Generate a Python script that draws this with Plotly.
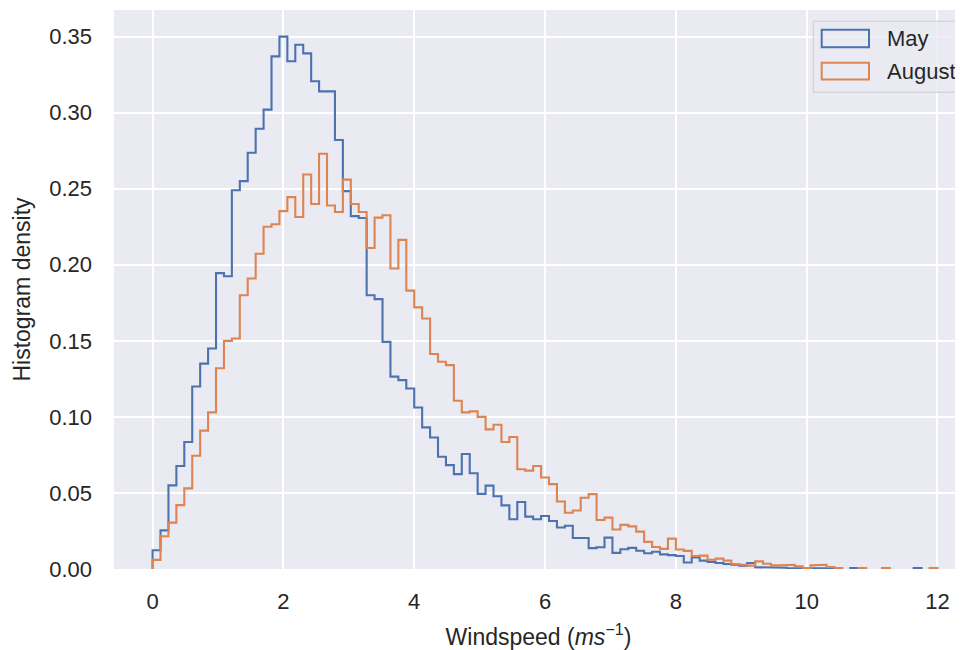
import plotly.graph_objects as go

# ---- data ----
x_max = 12.0
n_bins = 99
bin_edges = [i * x_max / n_bins for i in range(n_bins + 1)]

may_density = [
    0.0123, 0.0254, 0.0550, 0.0677, 0.0835, 0.1200, 0.1350, 0.1450, 0.1945, 0.1925,
    0.2490, 0.2550, 0.2737, 0.2894, 0.3020, 0.3370, 0.3500, 0.3338, 0.3447, 0.3390,
    0.3207, 0.3140, 0.3140, 0.2820, 0.2484, 0.2320, 0.2308, 0.1800, 0.1774, 0.1493,
    0.1265, 0.1242, 0.1187, 0.1062, 0.0931, 0.0865, 0.0738, 0.0683, 0.0624, 0.0756,
    0.0629, 0.0494, 0.0548, 0.0478, 0.0418, 0.0327, 0.0440, 0.0344, 0.0327, 0.0348,
    0.0316, 0.0273, 0.0284, 0.0204, 0.0204, 0.0137, 0.0143, 0.0206, 0.0106, 0.0130,
    0.0139, 0.0120, 0.0104, 0.0113, 0.0096, 0.0091, 0.0085, 0.0043, 0.0076, 0.0055,
    0.0047, 0.0039, 0.0033, 0.0028, 0.0022, 0.0039, 0.0012, 0.0010, 0.0009, 0.0008,
    0.0007, 0.0006, 0.0005, 0.0004, 0.0004, 0.0004, 0.0000, 0.0000, 0.0006, 0.0000,
    0.0000, 0.0000, 0.0000, 0.0000, 0.0000, 0.0000, 0.0006, 0.0000, 0.0000,
]

august_density = [
    0.0060, 0.0215, 0.0305, 0.0420, 0.0530, 0.0745, 0.0910, 0.1030, 0.1320, 0.1500,
    0.1515, 0.1800, 0.1910, 0.2073, 0.2250, 0.2266, 0.2353, 0.2445, 0.2314, 0.2594,
    0.2400, 0.2730, 0.2390, 0.2347, 0.2560, 0.2400, 0.2347, 0.2110, 0.2310, 0.2326,
    0.1976, 0.2164, 0.1830, 0.1720, 0.1647, 0.1413, 0.1363, 0.1340, 0.1106, 0.1030,
    0.1036, 0.1000, 0.0918, 0.0948, 0.0835, 0.0868, 0.0656, 0.0647, 0.0677, 0.0602,
    0.0558, 0.0444, 0.0370, 0.0385, 0.0468, 0.0492, 0.0322, 0.0338, 0.0260, 0.0290,
    0.0280, 0.0246, 0.0178, 0.0145, 0.0132, 0.0200, 0.0128, 0.0119, 0.0085, 0.0088,
    0.0061, 0.0068, 0.0055, 0.0033, 0.0028, 0.0022, 0.0050, 0.0035, 0.0024, 0.0024,
    0.0028, 0.0018, 0.0006, 0.0024, 0.0028, 0.0013, 0.0006, 0.0000, 0.0000, 0.0006,
    0.0000, 0.0000, 0.0006, 0.0000, 0.0000, 0.0000, 0.0000, 0.0000, 0.0006,
]

series_names = ["May", "August"]
series_colors = ["#4C72B0", "#DD8452"]
x_ticks = [0, 2, 4, 6, 8, 10, 12]
y_ticks = [0.00, 0.05, 0.10, 0.15, 0.20, 0.25, 0.30, 0.35]

FONT = "Liberation Sans, Arial, sans-serif"
TXT = "#262626"


def step_outline(edges, values):
    """Outline of a step histogram; empty bins leave a gap along the baseline."""
    xs, ys = [], []
    prev = 0.0
    for i, v in enumerate(values):
        left, right = edges[i], edges[i + 1]
        if v == 0:
            if prev != 0:
                xs.append(left); ys.append(0.0)
            xs.append(None); ys.append(None)
        else:
            if prev == 0:
                xs.append(left); ys.append(0.0)
            xs += [left, right]; ys += [v, v]
        prev = v
    if prev != 0:
        xs.append(edges[-1]); ys.append(0.0)
    return xs, ys


fig = go.Figure()
for name, vals, col in zip(series_names, [may_density, august_density], series_colors):
    xs, ys = step_outline(bin_edges, vals)
    fig.add_trace(go.Scatter(
        x=xs, y=ys, mode="lines", name=name, connectgaps=False,
        line=dict(color=col, width=2.1),
        showlegend=False, hoverinfo="skip",
    ))

# the page places the figure 8 px from the top-left corner of the window
OFF = 8
FW, FH = 963, 650
# desired plot area in window pixels
L, R, T, B = 114, 963, 9.5, 568.7
W, H = R - L, B - T


def px(x):
    return (x - L) / W


def py(y):
    return (B - y) / H


shapes = [
    dict(type="rect", xref="paper", yref="paper",
         x0=px(813.3), x1=px(985), y0=py(91.7), y1=py(20.7),
         line=dict(color="#CCCCCC", width=1), fillcolor="rgba(234,234,242,0.8)", layer="above"),
]
legend_rows = [(29.3, 46.7, 38.5), (62.3, 79.0, 71.0)]
annotations = []
for (top, bot, ty), name, col in zip(legend_rows, series_names, series_colors):
    shapes.append(dict(type="rect", xref="paper", yref="paper",
                       x0=px(821.7), x1=px(869), y0=py(bot), y1=py(top),
                       line=dict(color=col, width=2), fillcolor="rgba(0,0,0,0)", layer="above"))
    annotations.append(dict(xref="paper", yref="paper", x=px(885), y=py(ty),
                            text=name, showarrow=False, xanchor="left", yanchor="middle",
                            font=dict(family=FONT, size=22, color=TXT)))

fig.update_layout(
    width=FW, height=FH,
    margin=dict(l=L - OFF, r=(FW + OFF) - R, t=T - OFF, b=(FH + OFF) - B, autoexpand=False),
    paper_bgcolor="white", plot_bgcolor="#EAEAF2",
    font=dict(family=FONT, size=22, color=TXT),
    shapes=shapes, annotations=annotations,
    showlegend=False,
)
fig.update_xaxes(
    range=[-0.59, 12.39], tickvals=x_ticks, ticktext=[str(t) for t in x_ticks],
    showgrid=True, gridcolor="white", gridwidth=1.6, zeroline=False,
    showline=False, ticks="", ticklabelstandoff=17,
    tickfont=dict(family=FONT, size=22, color=TXT),
    title=dict(text="Windspeed (<i>ms</i><sup>−1</sup>)", font=dict(family=FONT, size=23, color=TXT), standoff=15),
)
fig.update_yaxes(
    range=[0, 0.3675], tickvals=y_ticks, ticktext=[f"{t:.2f}" for t in y_ticks],
    showgrid=True, gridcolor="white", gridwidth=1.6, zeroline=False,
    showline=False, ticks="", ticklabelstandoff=21,
    tickfont=dict(family=FONT, size=22, color=TXT),
    title=dict(text="Histogram density", font=dict(family=FONT, size=23, color=TXT), standoff=12),
)

fig.write_html("out.html")
